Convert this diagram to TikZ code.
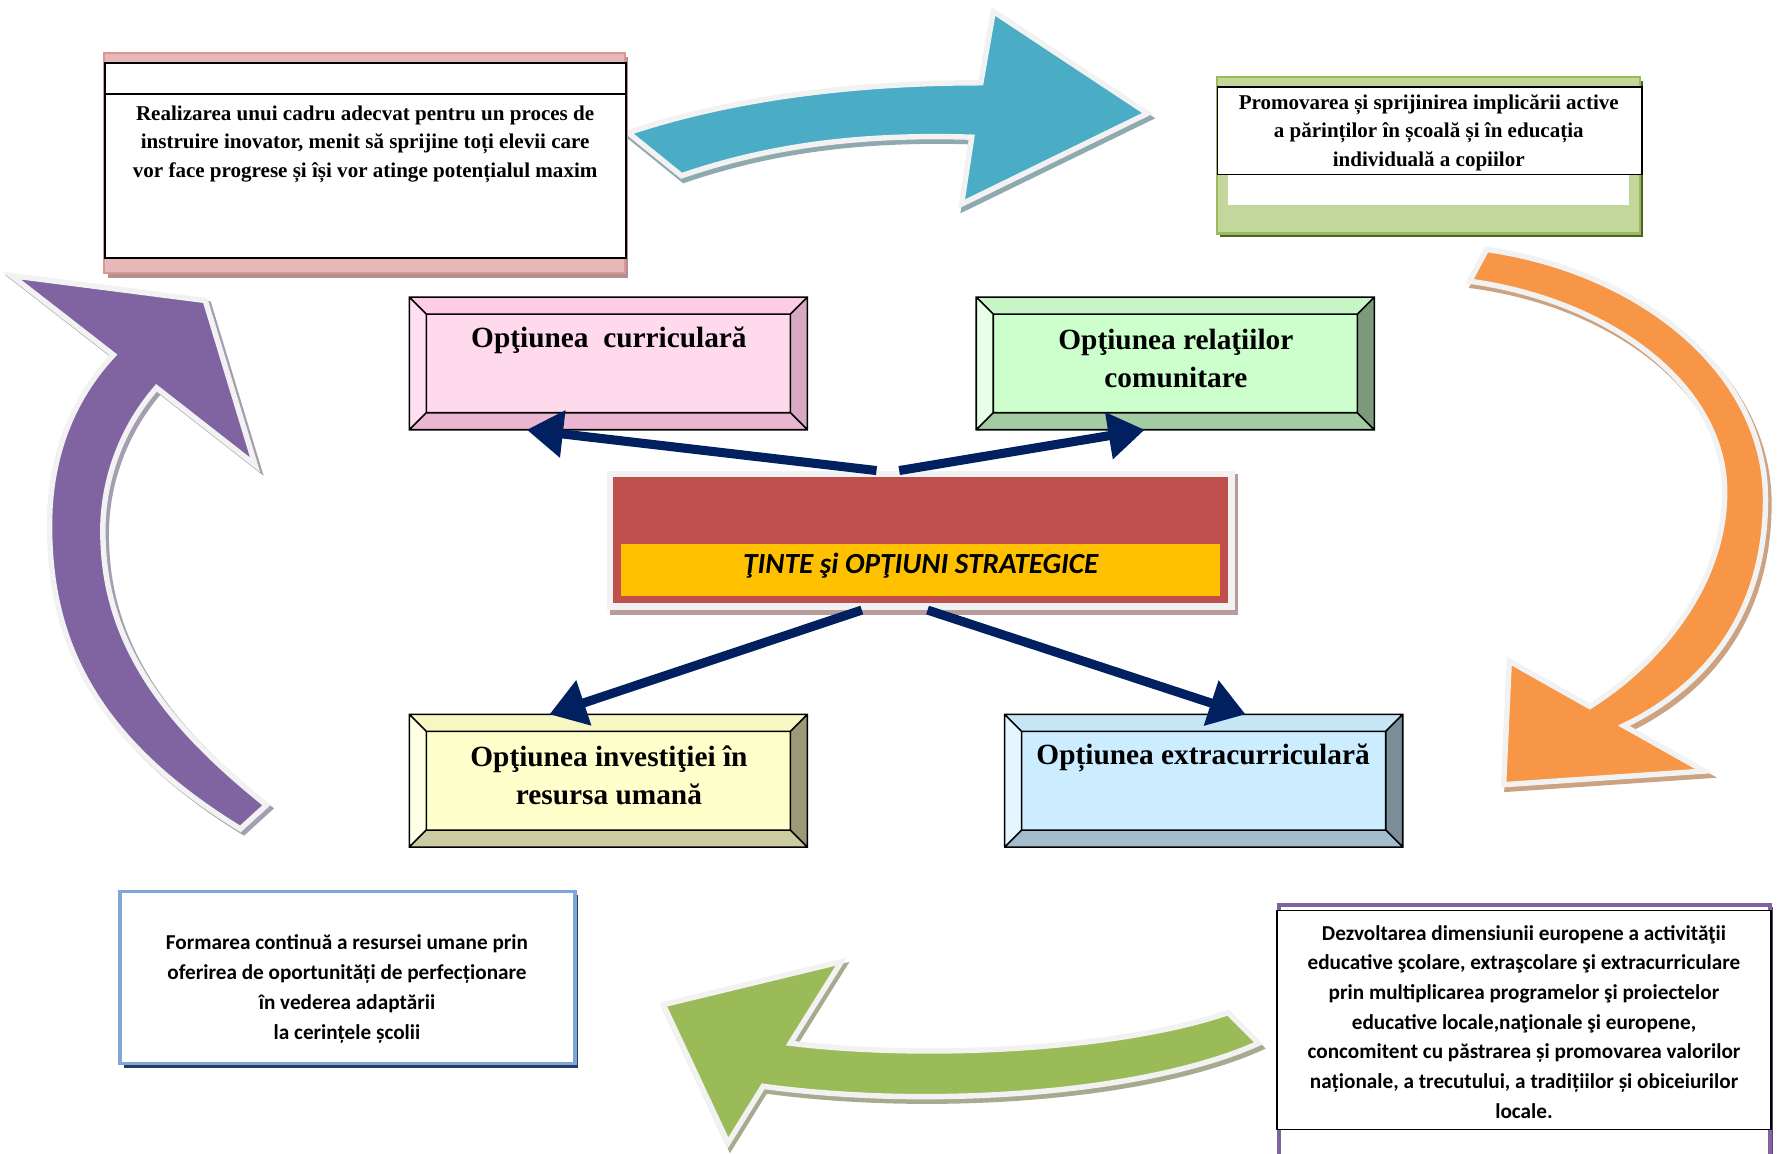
\documentclass[tikz,border=0pt]{standalone}
\usepackage{fontspec}
\setmainfont{Liberation Serif}
\newfontfamily\calibri{Carlito}
\usetikzlibrary{arrows.meta,calc}

\definecolor{navyline}{HTML}{002060}
\definecolor{tintered}{HTML}{C0504D}
\definecolor{tinteyellow}{HTML}{FFC000}
\definecolor{tinteshade}{HTML}{B89C9C}
\definecolor{rim}{HTML}{F2F2F2}
\definecolor{bluefill}{HTML}{4BACC6}
\definecolor{blueshade}{HTML}{8EA9B0}
\definecolor{orangefill}{HTML}{F79646}
\definecolor{orangeshade}{HTML}{CBA383}
\definecolor{greenfill}{HTML}{9BBB59}
\definecolor{greenshade}{HTML}{A6AA8E}
\definecolor{purplefill}{HTML}{8064A2}
\definecolor{purpleshade}{HTML}{A49FB0}
\definecolor{rosefill}{HTML}{E6B9B8}
\definecolor{roseedge}{HTML}{D99694}
\definecolor{roseshade}{HTML}{B09090}
\definecolor{leaffill}{HTML}{C3D69B}
\definecolor{leafedge}{HTML}{9BBB59}
\definecolor{leafshade}{HTML}{4F6228}
\definecolor{skyedge}{HTML}{7EA6D6}
\definecolor{skyshade}{HTML}{243F60}
\definecolor{violetedge}{HTML}{8064A2}
\definecolor{violetshade}{HTML}{5F497A}
% bevel colours: inner, top, left, right, bottom
\definecolor{pinkin}{HTML}{FFD9EC}\definecolor{pinktop}{HTML}{FFCCE6}
\definecolor{pinkleft}{HTML}{FFE0F0}\definecolor{pinkright}{HTML}{D9A9C4}
\definecolor{pinkbot}{HTML}{EBB6D1}
\definecolor{mintin}{HTML}{CCFFCC}\definecolor{minttop}{HTML}{C6F5C6}
\definecolor{mintleft}{HTML}{E6FFE6}\definecolor{mintright}{HTML}{7A9A7A}
\definecolor{mintbot}{HTML}{A3CCA3}
\definecolor{creamin}{HTML}{FFFFCC}\definecolor{creamtop}{HTML}{F7F7C4}
\definecolor{creamleft}{HTML}{FFFFE6}\definecolor{creamright}{HTML}{9A9A78}
\definecolor{creambot}{HTML}{CCCCA3}
\definecolor{icein}{HTML}{CCECFF}\definecolor{icetop}{HTML}{C6E6F8}
\definecolor{iceleft}{HTML}{E6F5FF}\definecolor{iceright}{HTML}{7A8E99}
\definecolor{icebot}{HTML}{A3BDCC}

% #1 node, #2 top, #3 left, #4 right, #5 bottom
\newcommand{\bevelbox}[5]{%
  \fill[#2] (#1.north west) -- (#1.north east) -- ($(#1.north east)+(-15,15)$) -- ($(#1.north west)+(15,15)$) -- cycle;
  \fill[#3] (#1.north west) -- ($(#1.north west)+(15,15)$) -- ($(#1.south west)+(15,-15)$) -- (#1.south west) -- cycle;
  \fill[#4] (#1.north east) -- ($(#1.north east)+(-15,15)$) -- ($(#1.south east)+(-15,-15)$) -- (#1.south east) -- cycle;
  \fill[#5] (#1.south west) -- ($(#1.south west)+(15,-15)$) -- ($(#1.south east)+(-15,-15)$) -- (#1.south east) -- cycle;
  \draw[line width=1pt] (#1.north west) rectangle (#1.south east)
    ($(#1.north west)+(15,15)$) rectangle ($(#1.south east)+(-15,-15)$)
    (#1.north west) -- ++(15,15) (#1.north east) -- ++(-15,15)
    (#1.south west) -- ++(15,-15) (#1.south east) -- ++(-15,-15);
}

\begin{document}
\begin{tikzpicture}[x=0.025cm,y=-0.025cm,
    optbox/.style={minimum width=8.775cm,minimum height=2.925cm,inner sep=0pt,outer sep=0pt},
    opttext/.style={font=\fontsize{18.4}{24}\selectfont\bfseries,align=center},
    goaltext/.style={font=\fontsize{13.2}{17.8}\selectfont\bfseries,align=center},
    calitext/.style={font=\calibri\fontsize{13.3}{18.9}\selectfont\bfseries,align=center},
    navyarrow/.style={draw=navyline,line width=0.2cm,-{Triangle[length=0.8cm,width=1cm]}},
    blueshadow/.style={fill=blueshade,draw=blueshade,line width=0.12cm,shift={(2,4)}},
    bluebody/.style={fill=bluefill,draw=rim,line width=0.12cm},
    orangeshadow/.style={fill=orangeshade,draw=orangeshade,line width=0.12cm,shift={(3,4)}},
    orangebody/.style={fill=orangefill,draw=rim,line width=0.12cm},
    greenshadow/.style={fill=greenshade,draw=greenshade,line width=0.12cm,shift={(2,4)}},
    greenbody/.style={fill=greenfill,draw=rim,line width=0.12cm},
    purpleshadow/.style={fill=purpleshade,draw=purpleshade,line width=0.12cm,shift={(3,3)}},
    purplebody/.style={fill=purplefill,draw=rim,line width=0.12cm}]
  \useasboundingbox (0,0) rectangle (1568,1017);

  % block arrows round the cycle
  \foreach \s in {blueshadow,bluebody}
    \filldraw[\s] (554,117) .. controls (650,85) and (760,73) .. (865,73) -- (876,10) -- (1012,100)
      -- (848,180) -- (857,121) .. controls (760,118) and (680,128) .. (601,155) -- cycle;
  \foreach \s in {orangeshadow,orangebody}
    \filldraw[\s] (1311,220) .. controls (1450,240) and (1557,330) .. (1557,440)
      .. controls (1557,540) and (1505,605) .. (1432,640) -- (1503,680) -- (1326,692) -- (1331,583)
      -- (1402,623) .. controls (1470,580) and (1521,510) .. (1521,434)
      .. controls (1521,340) and (1420,265) .. (1296,248) -- cycle;
  \foreach \s in {greenshadow,greenbody}
    \filldraw[\s] (1083,893) .. controls (990,925) and (820,935) .. (697,920) -- (742,848) -- (585,886)
      -- (642,1008) -- (673,958) .. controls (820,978) and (1010,965) .. (1110,920) -- cycle;
  \foreach \s in {purpleshadow,purplebody}
    \filldraw[\s] (212,731) .. controls (80,650) and (40,560) .. (44,450)
      .. controls (47,390) and (70,345) .. (100,313) -- (10,243) -- (181,265) -- (225,410)
      -- (138,342) .. controls (105,380) and (88,430) .. (91,480)
      .. controls (95,580) and (160,650) .. (235,710) -- cycle;

  % goal boxes
  \fill[roseshade] (95,50) rectangle (554,245);
  \filldraw[fill=rosefill,draw=roseedge,line width=0.05cm] (92,47) rectangle (551,241);
  \node[draw,line width=1pt,fill=white,minimum width=11.475cm,minimum height=4.3cm,
    inner sep=0pt,anchor=north west] (goalA) at (92,55) {};
  \draw[line width=1pt] ($(goalA.north west)+(0,28)$) -- ($(goalA.north east)+(0,28)$);
  \node[goaltext] (goalAtxt) at (322,127) {Realizarea unui cadru adecvat pentru un proces de\\
    instruire inovator, menit să sprijine toți elevii care\\
    vor face progrese și își vor atinge potențialul maxim};

  \fill[leafshade] (1076,71) rectangle (1449,209);
  \filldraw[fill=leaffill,draw=leafedge,line width=0.05cm] (1073,68) rectangle (1446,206);
  \fill[white] (1083,153) rectangle (1437,181);
  \node[draw,line width=1pt,fill=white,minimum width=9.35cm,minimum height=1.925cm,
    inner sep=0pt,anchor=north west] (goalB) at (1073,76) {};
  \node[goaltext] (goalBtxt) at (1260,117) {Promovarea și sprijinirea implicării active\\
    a părinților în școală și în educația\\ individuală a copiilor};

  \fill[violetshade] (1130,800) rectangle (1564,1020);
  \draw[violetedge,line width=0.075cm,fill=white] (1128,798) rectangle (1561,1020);
  \node[draw,line width=1pt,fill=white,minimum width=10.9cm,minimum height=4.825cm,
    inner sep=0pt] (goalC) at (1344,899.5) {};
  \node[calitext,font=\calibri\fontsize{13.3}{18.6}\selectfont\bfseries] (goalCtxt) at (1344,901)
    {Dezvoltarea dimensiunii europene a activităţii\\
    educative şcolare, extraşcolare şi extracurriculare\\
    prin multiplicarea programelor şi proiectelor\\
    educative locale,naţionale şi europene,\\
    concomitent cu păstrarea și promovarea valorilor\\
    naționale, a trecutului, a tradițiilor și obiceiurilor\\ locale.};

  \fill[skyshade] (109,789) rectangle (510,942);
  \node[draw=skyedge,line width=0.075cm,fill=white,minimum width=10.025cm,minimum height=3.8cm,
    inner sep=0pt] (goalD) at (306.5,862) {};
  \node[calitext] (goalDtxt) at (306,872) {Formarea continuă a resursei umane prin\\
    oferirea de oportunități de perfecționare\\ în vederea adaptării\\ la cerințele școlii};

  % centre
  \fill[tinteshade] (538,418) rectangle (1092,542);
  \node[draw=rim,line width=0.15cm,fill=tintered,minimum width=13.7cm,minimum height=2.925cm,
    inner sep=0pt] (tinte) at (812,476.5) {};
  \node[fill=tinteyellow,minimum width=13.2cm,minimum height=1.15cm,inner sep=0pt] (title) at (812,503) {};
  \node[font=\calibri\fontsize{18.3}{22}\selectfont\bfseries\itshape] (titletxt) at (812,499)
    {ŢINTE şi OPŢIUNI STRATEGICE};

  % options
  \node[optbox,fill=pinkin] (curr) at (536.5,320.5) {};
  \bevelbox{curr}{pinktop}{pinkleft}{pinkright}{pinkbot}
  \node[opttext] (currtxt) at (537,300) {Opţiunea\ \ curriculară};

  \node[optbox,fill=mintin] (rel) at (1036.5,320.5) {};
  \bevelbox{rel}{minttop}{mintleft}{mintright}{mintbot}
  \node[opttext] (reltxt) at (1037,316) {Opţiunea relaţiilor\\ comunitare};

  \node[optbox,fill=creamin] (inv) at (536.5,688.5) {};
  \bevelbox{inv}{creamtop}{creamleft}{creamright}{creambot}
  \node[opttext] (invtxt) at (537,684) {Opţiunea investiţiei în\\ resursa umană};

  \node[optbox,fill=icein] (extra) at (1061.5,688.5) {};
  \bevelbox{extra}{icetop}{iceleft}{iceright}{icebot}
  \node[opttext] (extratxt) at (1061,668) {Opțiunea extracurriculară};

  % connectors
  \draw[navyarrow] ($(tinte.north)+(-39,0)$) -- ($(curr.south)+(-72,0)$);
  \draw[navyarrow] ($(tinte.north)+(-19,0)$) -- ($(rel.south)+(-27,0)$);
  \draw[navyarrow] ($(tinte.south)+(-52,0)$) -- ($(inv.north)+(-52,0)$);
  \draw[navyarrow] ($(tinte.south)+(6,0)$) -- ($(extra.north)+(37,0)$);
\end{tikzpicture}
\end{document}
